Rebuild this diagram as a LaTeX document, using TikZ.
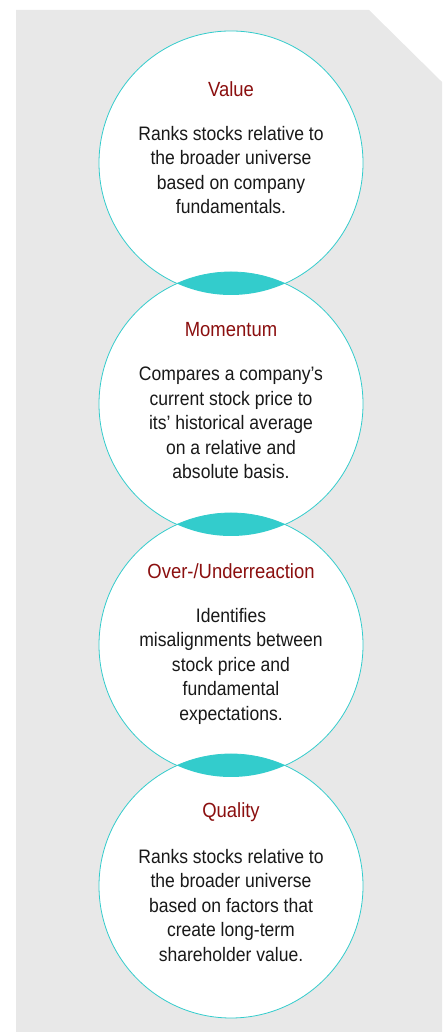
\documentclass[tikz,border=0pt]{standalone}
\usepackage{fontspec}
\setmainfont{Liberation Sans}[FakeStretch=0.9]
\usepackage{tikz}
\definecolor{panelgray}{HTML}{E8E8E8}
\definecolor{ringteal}{HTML}{33CCCC}
\definecolor{headred}{HTML}{8B0F0F}
\tikzset{
  factor/.style={circle, draw=ringteal, line width=0.8pt, fill=white, minimum size=264pt, inner sep=0pt}, % factor ring
  head/.style={text=headred, font=\fontsize{20.5}{24}\selectfont, inner sep=0pt},                         % factor name
  body/.style={text=black!90, font=\fontsize{19.5}{24.5}\selectfont, align=center, inner sep=0pt, anchor=north}, % description
  lens/.style={fill=ringteal}                                                                             % overlap
}

\begin{document}
\begin{tikzpicture}[x=1pt, y=1pt, node distance=241pt]
  \useasboundingbox (0,0) rectangle (442,1032);

  % background panel with the cut corner
  \fill[panelgray] (16,0) -- (16,1022) -- (369,1022) -- (442,950) -- (442,0) -- cycle;

  % the four rings, top to bottom
  \node (value) [factor] at (231,869) {};
  \node (momentum) [factor, below of=value] {};
  \node (reaction) [factor, below of=momentum] {};
  \node (quality) [factor, below of=reaction] {};

  % overlaps between neighbouring rings
  \begin{scope}
    \clip (value.center) circle (132pt);
    \fill[lens] (momentum.center) circle (132pt);
  \end{scope}
  \begin{scope}
    \clip (momentum.center) circle (132pt);
    \fill[lens] (reaction.center) circle (132pt);
  \end{scope}
  \begin{scope}
    \clip (reaction.center) circle (132pt);
    \fill[lens] (quality.center) circle (132pt);
  \end{scope}

  % names
  \node (value-head) [head] at ([yshift=74pt]value.center) {Value};
  \node (momentum-head) [head] at ([yshift=74pt]momentum.center) {Momentum};
  \node (reaction-head) [head] at ([yshift=74pt]reaction.center) {Over-/Underreaction};
  \node (quality-head) [head] at ([yshift=74pt]quality.center) {Quality};

  % descriptions
  \node (value-text) [body] at ([yshift=37pt]value.center)
    {Ranks stocks relative to\\the broader universe\\based on company\\fundamentals.};
  \node (momentum-text) [body] at ([yshift=37pt]momentum.center)
    {Compares a company’s\\current stock price to\\its’ historical average\\on a relative and\\absolute basis.};
  \node (reaction-text) [body] at ([yshift=37pt]reaction.center)
    {Identifies\\misalignments between\\stock price and\\fundamental\\expectations.};
  \node (quality-text) [body] at ([yshift=37pt]quality.center)
    {Ranks stocks relative to\\the broader universe\\based on factors that\\create long-term\\shareholder value.};
\end{tikzpicture}
\end{document}
